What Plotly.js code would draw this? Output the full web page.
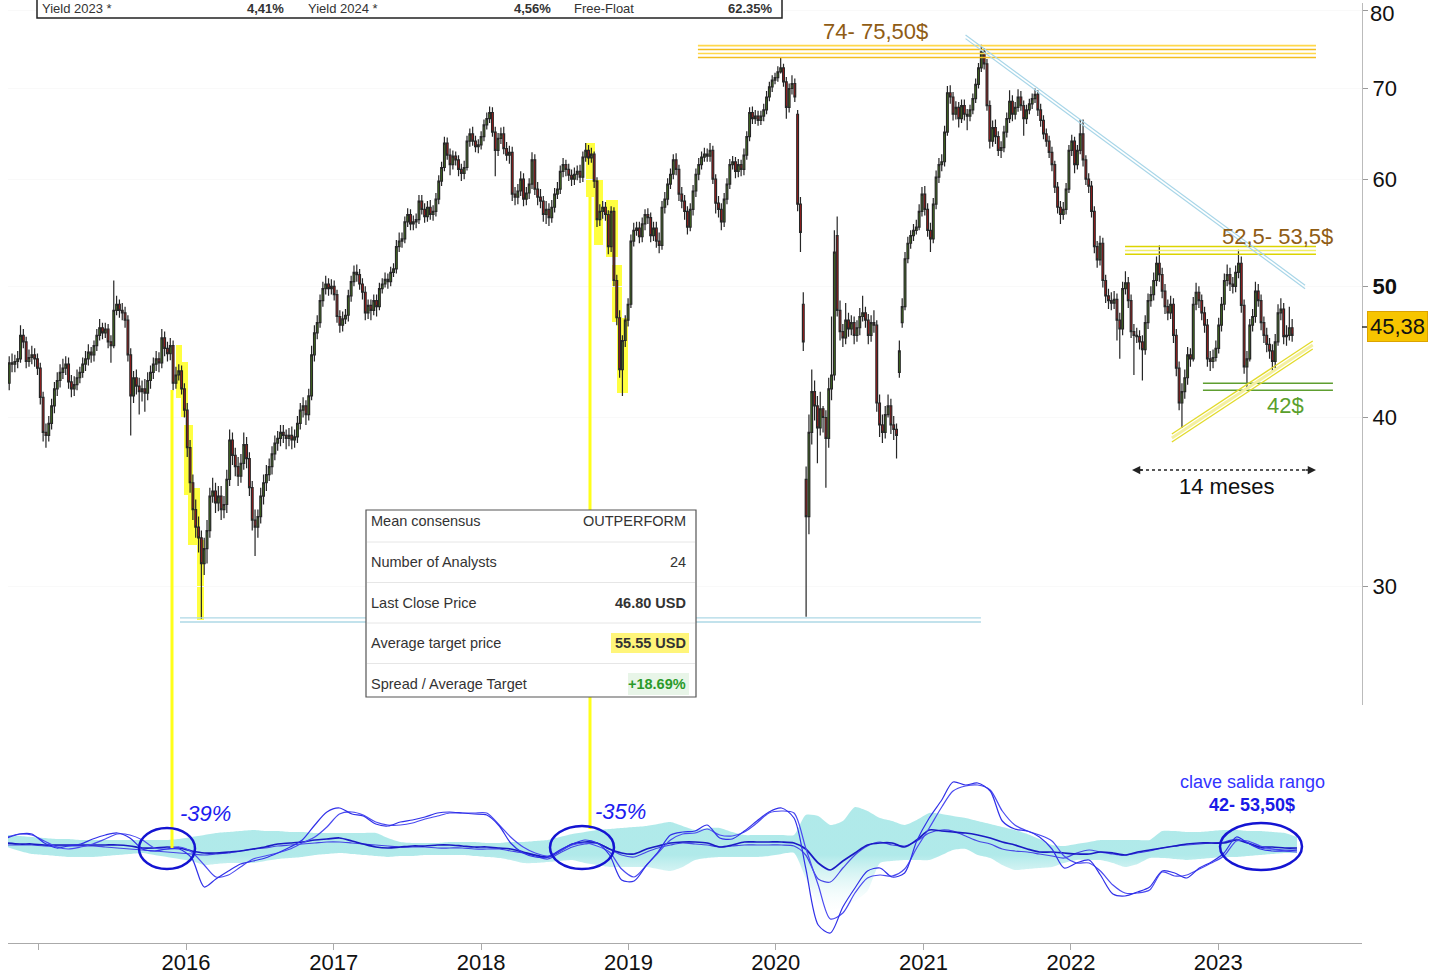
<!DOCTYPE html>
<html><head><meta charset="utf-8">
<script src="https://cdn.plot.ly/plotly-3.0.1.min.js"></script>
<style>html,body{margin:0;padding:0;background:#fff}#chart{width:1430px;height:974px}</style>
</head><body><div id="chart"></div>
<script>
// ---------- weekly candles (first week starting 2014-10-20) ----------
const weekStart = '2014-10-20';
const open = [
42.4,43.9,43.8,44.0,44.2,46.0,45.5,44.0,44.3,44.5,
44.2,43.5,41.4,39.0,38.8,39.6,40.8,42.0,42.6,43.2,
43.5,43.8,42.5,42.0,42.3,42.8,43.2,43.8,44.2,44.7,
44.5,45.2,46.0,46.6,46.2,46.5,45.5,45.2,48.0,48.5,
48.0,47.8,47.2,44.5,41.5,42.8,42.2,41.8,42.0,41.7,
42.6,43.2,43.8,44.2,43.9,45.8,45.0,44.6,45.2,42.4,
43.0,43.3,42.0,40.5,38.0,35.8,34.2,33.2,32.6,31.2,
32.0,33.0,35.0,35.3,34.6,35.0,34.2,34.5,36.0,38.5,
37.5,36.8,36.2,37.0,38.2,37.3,35.5,33.6,33.2,33.8,
35.0,35.8,36.3,36.8,37.6,38.3,38.6,39.0,38.8,38.6,
38.8,38.5,38.7,39.6,40.5,40.8,40.2,41.5,44.5,46.2,
47.0,48.8,49.8,50.2,49.8,50.0,49.3,47.5,46.8,47.3,
47.6,49.2,50.4,51.2,51.0,50.2,49.5,47.8,48.4,48.0,
48.8,48.3,49.8,50.2,50.6,50.4,51.2,51.5,53.5,54.0,
54.2,55.8,56.5,55.6,55.8,56.0,57.8,57.0,56.3,57.2,
56.5,56.8,58.0,59.8,61.2,63.8,62.5,61.5,62.4,62.0,
61.0,60.6,61.2,64.0,64.8,64.0,63.4,63.6,64.5,65.8,
66.5,67.2,65.0,63.0,64.3,64.8,63.2,62.5,62.8,58.5,
58.2,58.8,60.0,58.0,58.6,59.5,62.0,59.0,58.2,57.8,
56.5,57.0,56.2,57.2,58.5,59.0,60.8,61.5,61.0,60.4,
60.0,60.5,60.8,60.2,62.3,63.0,62.2,62.6,59.8,56.0,
56.8,57.2,56.5,53.5,56.8,50.5,47.4,43.4,45.6,47.2,
48.5,54.0,55.0,55.2,54.4,55.6,56.5,56.2,54.5,55.2,
54.0,53.6,57.2,58.0,59.5,60.5,62.0,61.0,58.5,57.8,
56.8,55.3,57.0,58.8,60.5,61.5,62.3,62.6,62.4,63.0,
60.0,57.6,57.0,55.8,58.0,59.5,61.5,61.8,60.8,61.5,
61.0,62.5,64.5,67.2,66.5,66.8,66.3,66.8,67.5,69.0,
70.2,71.0,71.3,72.0,72.5,70.8,67.8,70.0,70.6,67.0,
57.5,48.5,36.0,33.8,39.0,41.8,40.8,39.3,40.6,40.0,
38.6,42.0,43.0,54.5,48.0,46.3,45.8,47.2,46.5,47.0,
46.0,46.6,47.5,47.8,47.2,46.0,47.0,46.8,41.0,39.5,
39.0,40.2,40.8,39.5,39.2,43.2,47.0,48.3,52.4,53.8,
54.5,55.0,55.3,56.8,58.5,57.0,55.0,54.2,57.5,60.2,
61.5,61.8,65.0,69.5,69.0,67.0,67.8,66.5,68.0,67.0,
66.8,67.5,68.8,70.5,72.5,74.5,73.0,68.0,64.0,65.5,
64.5,63.0,63.3,65.0,66.5,68.5,67.0,67.8,69.0,68.0,
66.5,67.5,68.2,68.8,69.3,67.5,66.3,64.8,64.0,62.8,
61.5,59.2,57.2,56.5,57.0,59.0,63.0,64.0,61.5,63.0,
64.8,62.0,60.0,59.3,56.8,53.5,52.3,53.8,50.5,49.2,
48.8,48.6,48.9,47.2,46.5,49.8,50.3,48.8,46.3,46.0,
45.9,45.5,44.9,47.0,48.8,49.3,50.5,52.0,51.0,49.6,
48.3,47.8,48.5,46.0,43.5,41.0,41.8,42.8,44.5,44.2,
48.5,49.5,48.8,47.8,46.8,44.2,44.0,44.3,45.0,46.8,
48.5,50.5,51.0,50.2,50.0,51.2,52.0,48.4,43.6,44.2,
46.8,47.5,49.6,48.8,47.0,46.0,45.3,44.8,44.0,45.5,
47.8,48.1,45.9,46.0,46.6];
const high = [
44.4,44.6,44.5,44.8,46.8,46.5,45.9,44.9,45.2,45.0,
44.6,43.9,41.8,39.6,40.1,41.3,42.5,43.2,43.8,44.2,
44.4,44.3,43.0,42.9,43.4,43.6,44.3,44.8,45.3,45.1,
45.6,46.5,47.3,47.0,47.0,46.9,46.0,50.5,49.2,48.9,
48.6,48.3,47.6,45.0,43.3,43.4,42.8,42.6,42.7,43.2,
43.7,44.3,44.8,44.7,46.5,46.3,45.5,45.8,45.6,43.6,
43.8,43.7,42.4,41.0,38.5,36.3,34.8,33.8,33.0,32.6,
33.6,35.5,36.1,35.8,35.6,35.6,35.0,36.6,39.2,39.0,
38.0,37.4,37.6,39.0,38.7,37.7,35.9,34.2,34.2,35.5,
36.3,36.9,37.3,38.1,38.8,39.1,39.5,39.5,39.2,39.3,
39.4,39.2,40.1,41.0,41.4,41.2,42.0,45.2,46.8,47.6,
49.3,50.4,50.9,50.7,50.6,50.5,49.7,48.0,47.9,48.1,
49.7,50.9,51.8,51.9,51.5,50.7,50.0,48.9,48.9,49.3,
49.3,50.3,50.7,51.2,51.1,51.7,52.0,54.1,54.8,54.8,
56.3,57.1,57.0,56.4,56.6,58.4,58.4,57.6,57.8,57.9,
57.4,58.6,60.4,61.8,64.5,64.4,63.2,63.0,62.9,62.5,
61.6,61.9,64.6,65.4,65.6,64.6,64.2,65.1,66.4,67.2,
67.9,67.8,65.6,64.9,65.5,65.6,63.9,63.5,63.4,59.2,
59.5,60.8,60.6,59.2,60.1,62.8,62.6,59.7,59.0,58.3,
57.8,57.6,57.9,59.1,59.7,61.4,62.2,62.0,61.6,61.0,
61.2,61.4,61.5,62.9,63.8,63.6,63.3,62.9,60.2,57.5,
57.8,57.7,56.9,57.3,57.2,51.0,48.0,46.0,47.6,49.0,
54.6,55.7,55.8,55.8,56.2,57.0,57.1,56.7,55.8,55.8,
54.8,57.8,58.7,60.1,61.1,62.6,62.7,61.5,59.2,58.4,
57.3,57.6,59.4,61.1,62.2,62.9,63.3,63.2,63.8,63.5,
60.5,58.3,57.6,58.6,60.1,62.1,62.4,62.3,62.1,62.0,
63.2,65.1,67.8,67.9,67.5,67.4,67.4,68.2,69.7,70.8,
71.6,71.9,72.7,73.8,73.0,71.4,70.6,71.6,71.2,67.5,
58.2,49.5,36.8,40.2,43.4,42.6,41.5,41.8,40.8,40.5,
42.8,47.5,55.0,56.3,48.8,46.9,48.6,47.8,47.6,47.5,
47.2,48.2,49.2,48.3,47.7,47.6,48.0,47.2,41.6,40.2,
40.8,41.6,41.3,40.1,39.6,45.6,49.0,53.0,54.4,55.0,
55.6,56.0,57.5,59.2,59.3,57.6,55.7,58.1,60.9,62.2,
62.6,65.7,70.3,70.4,69.6,68.5,68.4,68.7,68.7,67.6,
68.1,69.4,71.2,73.1,75.4,75.0,73.6,68.6,66.3,66.4,
65.1,64.0,65.7,67.2,69.8,69.2,68.4,69.9,69.7,68.6,
68.1,68.8,69.4,70.0,69.8,68.2,66.9,65.4,64.6,63.4,
61.9,59.7,57.8,57.7,59.6,63.6,64.7,64.5,63.6,66.4,
66.4,62.5,60.6,59.8,57.3,54.0,54.5,54.3,51.0,49.8,
49.5,49.6,49.4,47.8,50.4,51.3,50.8,49.3,46.9,46.6,
46.4,46.0,47.6,49.4,50.0,51.2,52.6,53.6,51.6,50.2,
48.9,49.2,49.0,46.5,44.0,42.4,43.4,45.1,45.0,49.1,
50.3,50.0,49.3,48.3,47.3,44.8,44.9,45.6,47.4,49.1,
51.1,51.9,51.6,50.8,51.8,53.2,52.6,48.9,44.8,47.3,
48.1,50.4,50.2,49.3,47.5,46.6,45.8,45.3,46.1,48.5,
49.0,48.6,46.8,48.3,47.3];
const low = [
41.9,43.2,43.2,43.5,43.9,45.0,43.5,43.6,43.8,43.6,
43.0,40.9,38.4,38.0,38.4,39.2,40.3,41.5,42.1,42.7,
43.0,42.0,41.4,41.5,41.9,42.4,42.8,43.3,43.7,43.9,
44.0,44.8,45.6,45.7,45.8,45.0,43.9,45.0,47.6,47.4,
47.2,46.6,44.0,38.8,41.0,41.6,40.2,41.1,40.4,41.2,
42.0,42.7,43.3,43.2,43.5,44.4,44.0,44.1,41.9,42.0,
42.6,41.6,40.0,37.4,35.2,33.6,32.6,31.8,28.4,30.6,
31.2,32.6,34.6,34.0,34.1,33.6,33.7,34.0,35.6,36.9,
36.2,35.6,35.8,36.6,36.7,35.0,33.0,31.6,32.6,33.4,
34.5,35.3,35.9,36.3,37.2,37.8,38.1,38.3,37.9,38.1,
37.9,38.0,38.3,39.2,40.0,39.5,39.8,41.2,44.0,45.7,
46.6,48.3,49.3,49.2,49.3,48.8,47.0,46.2,46.3,46.9,
47.1,48.7,50.0,50.4,49.7,48.9,47.2,47.3,47.2,47.6,
47.5,48.0,49.4,49.9,49.8,50.0,50.8,51.1,53.0,53.4,
53.8,55.3,55.0,55.0,55.2,55.6,56.5,55.7,55.8,56.0,
55.9,56.3,57.5,59.3,60.8,62.0,60.4,61.0,61.4,60.3,
59.8,60.0,60.9,63.4,63.5,62.8,62.7,63.1,64.0,65.3,
66.0,64.5,60.3,62.4,63.7,62.6,61.9,61.6,57.8,57.4,
57.5,58.3,57.3,57.4,58.0,59.0,58.4,57.4,57.1,55.8,
55.6,55.4,55.7,56.7,58.0,58.5,60.2,60.3,59.8,59.3,
59.4,59.9,59.6,59.7,61.8,61.5,61.7,59.1,55.3,55.4,
56.1,55.9,52.8,53.0,50.0,46.8,42.8,41.5,45.1,46.7,
48.2,53.5,54.5,53.8,53.9,55.0,55.6,53.9,54.0,53.4,
52.9,53.2,56.6,57.4,59.0,60.0,60.4,57.8,57.1,56.0,
54.6,54.9,56.4,58.2,59.9,61.0,61.8,61.8,61.8,59.5,
56.6,56.2,55.0,55.3,57.5,59.0,61.0,60.1,60.2,60.3,
60.4,62.0,64.0,65.9,65.9,65.7,65.8,66.2,67.0,68.5,
69.6,70.5,70.8,71.8,70.2,66.5,67.2,69.3,68.4,56.8,
53.0,44.8,28.5,32.8,38.2,39.8,37.0,38.8,39.0,35.5,
38.0,41.2,42.6,47.5,45.6,45.1,45.3,45.9,46.0,45.3,
45.5,46.0,47.1,46.6,45.3,45.5,46.2,40.4,38.7,38.3,
38.6,40.0,38.9,38.5,37.3,42.8,46.6,48.0,52.0,53.3,
54.0,54.6,55.0,56.3,56.4,54.4,53.0,53.8,57.0,59.6,
60.8,61.3,64.6,68.2,66.3,66.4,65.5,66.0,66.3,65.2,
66.2,67.0,68.3,70.0,72.0,72.3,67.4,63.2,63.4,63.7,
62.4,62.2,62.8,64.4,66.0,66.2,66.4,67.3,67.4,64.6,
65.9,67.0,67.6,68.3,66.8,65.6,64.2,63.4,62.2,60.8,
58.6,56.6,55.6,56.0,56.5,58.6,62.4,60.6,61.0,62.6,
61.3,59.4,58.6,56.2,52.9,51.6,51.8,49.9,48.6,48.1,
48.0,48.1,45.6,44.2,46.0,49.3,48.2,45.8,43.0,45.4,
44.9,42.6,44.5,46.5,48.3,48.8,50.0,50.4,49.0,47.7,
47.2,47.3,45.4,42.9,40.5,39.3,41.3,42.3,43.6,44.0,
48.0,48.2,47.2,46.2,43.6,43.3,43.5,44.0,44.6,46.3,
48.0,50.0,49.6,49.4,49.5,50.7,47.8,43.1,42.0,44.0,
46.3,47.0,48.3,46.4,45.4,44.7,44.2,43.2,43.5,45.2,
47.2,45.3,45.2,45.6,45.5];
const close = [
43.9,43.8,44.0,44.2,46.0,45.5,44.0,44.3,44.5,44.2,
43.5,41.4,39.0,38.8,39.6,40.8,42.0,42.6,43.2,43.5,
43.8,42.5,42.0,42.3,42.8,43.2,43.8,44.2,44.7,44.5,
45.2,46.0,46.6,46.2,46.5,45.5,45.2,48.0,48.5,48.0,
47.8,47.2,44.5,41.5,42.8,42.2,41.8,42.0,41.7,42.6,
43.2,43.8,44.2,43.9,45.8,45.0,44.6,45.2,42.4,43.0,
43.3,42.0,40.5,38.0,35.8,34.2,33.2,32.6,31.2,32.0,
33.0,35.0,35.3,34.6,35.0,34.2,34.5,36.0,38.5,37.5,
36.8,36.2,37.0,38.2,37.3,35.5,33.6,33.2,33.8,35.0,
35.8,36.3,36.8,37.6,38.3,38.6,39.0,38.8,38.6,38.8,
38.5,38.7,39.6,40.5,40.8,40.2,41.5,44.5,46.2,47.0,
48.8,49.8,50.2,49.8,50.0,49.3,47.5,46.8,47.3,47.6,
49.2,50.4,51.2,51.0,50.2,49.5,47.8,48.4,48.0,48.8,
48.3,49.8,50.2,50.6,50.4,51.2,51.5,53.5,54.0,54.2,
55.8,56.5,55.6,55.8,56.0,57.8,57.0,56.3,57.2,56.5,
56.8,58.0,59.8,61.2,63.8,62.5,61.5,62.4,62.0,61.0,
60.6,61.2,64.0,64.8,64.0,63.4,63.6,64.5,65.8,66.5,
67.2,65.0,63.0,64.3,64.8,63.2,62.5,62.8,58.5,58.2,
58.8,60.0,58.0,58.6,59.5,62.0,59.0,58.2,57.8,56.5,
57.0,56.2,57.2,58.5,59.0,60.8,61.5,61.0,60.4,60.0,
60.5,60.8,60.2,62.3,63.0,62.2,62.6,59.8,56.0,56.8,
57.2,56.5,53.5,56.8,50.5,47.4,43.4,45.6,47.2,48.5,
54.0,55.0,55.2,54.4,55.6,56.5,56.2,54.5,55.2,54.0,
53.6,57.2,58.0,59.5,60.5,62.0,61.0,58.5,57.8,56.8,
55.3,57.0,58.8,60.5,61.5,62.3,62.6,62.4,63.0,60.0,
57.6,57.0,55.8,58.0,59.5,61.5,61.8,60.8,61.5,61.0,
62.5,64.5,67.2,66.5,66.8,66.3,66.8,67.5,69.0,70.2,
71.0,71.3,72.0,72.5,70.8,67.8,70.0,70.6,69.0,57.5,
54.8,45.5,33.8,39.0,41.8,40.8,39.3,40.6,40.0,38.6,
42.0,43.0,53.0,48.0,46.3,45.8,47.2,46.5,47.0,46.0,
46.6,47.5,47.8,47.2,46.0,47.0,46.8,41.0,39.5,39.0,
40.2,40.8,39.5,39.2,38.8,44.8,48.3,52.4,53.8,54.5,
55.0,55.3,56.8,58.5,57.0,55.0,54.2,57.5,60.2,61.5,
61.8,65.0,69.5,69.0,67.0,67.8,66.5,68.0,67.0,66.8,
67.5,68.8,70.5,72.5,74.5,73.0,68.0,64.0,65.5,64.5,
63.0,63.3,65.0,66.5,68.5,67.0,67.8,69.0,68.0,66.5,
67.5,68.2,68.8,69.3,67.5,66.3,64.8,64.0,62.8,61.5,
59.2,57.2,56.5,57.0,59.0,63.0,64.0,61.5,63.0,64.8,
62.0,60.0,59.3,56.8,53.5,52.3,53.8,50.5,49.2,48.8,
48.6,48.9,47.2,46.5,49.8,50.3,48.8,46.3,46.0,45.9,
45.5,44.9,47.0,48.8,49.3,50.5,52.0,51.0,49.6,48.3,
47.8,48.5,46.0,43.5,41.0,41.8,42.8,44.5,44.2,48.5,
49.5,48.8,47.8,46.8,44.2,44.0,44.3,45.0,46.8,48.5,
50.5,51.0,50.2,50.0,51.2,52.0,48.4,43.6,44.2,46.8,
47.5,49.6,48.8,47.0,46.0,45.3,44.8,44.0,45.5,47.8,
48.1,45.9,46.0,46.6,46.0];

// ---------- oscillator pane (monthly samples from 2014-10-15) ----------
const oscStart = '2014-10-15';
const fastA = [5,9,9,0,-5,-3,-1,4,8,10, 5,-6,-8,-6,-6,-15,-44,-36,-28,-21, -18,-15,-10,-4,3,18,31,35,29,27,
 19,17,21,23,26,30,31,30,29,28, 17,0,-10,-14,-14,-7,-1,3,0,-12, -37,-38,-22,-9,8,11,12,18,5,4,
 12,22,31,35,25,-25,-82,-90,-64,-45, -28,-25,-34,-30,2,25,43,61,58,60, 52,22,14,12,6,-6,-25,-20,-17,-32,
 -51,-53,-49,-44,-28,-30,-35,-25,-19,-10, 6,0,-6,-8,-8,-7];
const fastB = [6,9,8,2,-4,-6,-4,-1,4,9, 8,3,-5,-6,-4,-9,-22,-34,-32,-24, -16,-13,-10,-6,0,6,16,29,31,28,
 21,18,18,20,24,27,30,30,30,30, 18,6,-4,-10,-13,-8,-2,0,-3,-9, -26,-34,-22,-10,3,9,10,14,8,7,
 11,20,30,32,30,-5,-42,-76,-70,-50, -35,-32,-33,-26,-5,15,36,52,57,58, 53,32,18,12,8,2,-13,-20,-20,-28,
 -42,-50,-50,-47,-29,-33,-32,-26,-20,-13, 2,2,-3,-6,-8,-9];
const slowC = [0,-1,-1,-2,-2,-2,-2,-2,-2,-2, -3,-5,-5,-4,-5,-8,-10,-10,-9,-8, -6,-4,-1,0,1,3,4,5,2,-1,
 -4,-5,-4,-3,-3,-2,-2,-3,-4,-4, -5,-6,-9,-12,-14,-8,-1,1,0,-6, -10,-11,-6,-3,0,1,1,0,-4,-2,
 1,1,1,1,0,-6,-20,-27,-18,-10, -2,0,0,-4,3,13,12,11,10,8, 5,1,-2,-6,-9,-9,-10,-11,-11,-9,
 -10,-12,-9,-7,-5,-3,-1,0,0,0, 3,0,-4,-4,-5,-5];
const slowD = [-2,-2,-2,-3,-3,-3,-3,-3,-4,-5, -6,-7,-8,-9,-10,-11,-12,-11,-10,-8, -6,-5,-3,-2,-1,0,1,1,0,-1,
 -2,-3,-4,-4,-4,-5,-5,-5,-6,-6, -6,-8,-10,-13,-16,-10,-4,-1,0,-6, -12,-14,-9,-5,-2,0,-1,-2,-4,-3,
 -2,-2,-2,-2,-3,-12,-36,-39,-25,-12, -3,1,-2,-3,2,10,13,12,7,2, -1,-6,-8,-9,-11,-13,-15,-10,-7,-9,
 -11,-12,-10,-8,-5,-3,-2,-1,0,1, 4,0,-5,-6,-7,-7];
const bandUp = [8,7,6,5,4,4,3,3,3,3, 3,3,3,3,4,6,8,10,11,12, 13,12,12,11,11,10,10,10,10,10,
 10,5,1,0,0,0,1,1,1,0, 0,1,1,2,3,6,9,11,13,14, 15,16,17,19,21,17,13,15,15,11,
 8,8,8,8,8,28,27,18,22,36, 32,25,22,18,23,30,29,27,25,22, 19,16,13,9,4,-2,-3,-1,1,3,
 3,3,3,3,12,12,11,11,12,13, 13,12,12,11,10,6];
const bandLo = [-4,-8,-11,-12,-13,-14,-14,-14,-13,-12, -11,-10,-12,-14,-16,-18,-22,-21,-20,-20, -20,-18,-16,-15,-14,-12,-11,-10,-11,-12,
 -13,-14,-13,-13,-12,-12,-12,-12,-13,-14, -15,-17,-20,-20,-19,-18,-17,-20,-22,-24, -24,-24,-24,-26,-28,-24,-17,-15,-14,-14,
 -14,-14,-13,-11,-10,-35,-60,-67,-64,-58, -48,-20,-18,-17,-17,-17,-12,-7,-6,-12, -15,-22,-27,-26,-25,-24,-20,-17,-17,-17,
 -20,-24,-21,-15,-15,-16,-17,-16,-15,-14, -14,-13,-12,-11,-10,-10];

// ---------- axes / levels ----------
const yearTicks = ['2015-01-01','2016-01-01','2017-01-01','2018-01-01','2019-01-01','2020-01-01','2021-01-01','2022-01-01','2023-01-01'];
const yearLabels = ['','2016','2017','2018','2019','2020','2021','2022','2023'];
const priceTicks = [30,40,50,60,70,80];
const priceTickText = ['30','40','<b>50</b>','60','70',''];   // "80" is written as a label below, kept inside the page
const topLevels = [73.8,74.3,74.8,75.3];      const topSpan = ['2019-06-22','2023-08-31'];
const midLevels = [52.8,53.15,53.5];          const midSpan = ['2022-05-15','2023-08-31'];
const lowLevels = [42.4,41.9];                const lowSpan = ['2022-11-24','2023-10-12'];
const floorLevels = [28.45,28.25];            const floorSpan = ['2015-12-17','2021-05-23'];
const downTrendDates = ['2021-04-15','2023-08-04'];
const downTrendA = [76.67,50.1];
const downTrendB = [76.2,49.8];
const upTrendDates = ['2022-09-08','2023-08-23'];
const upTrendA = [38.9,45.56];
const upTrendM = [38.63,45.25];
const upTrendB = [38.37,44.94];

// ---------- helpers ----------
function addDays(s,d){const t=new Date(s+'T00:00:00Z');t.setUTCDate(t.getUTCDate()+d);return t.toISOString().slice(0,10);}
function addMonths(s,m){const t=new Date(s+'T00:00:00Z');t.setUTCMonth(t.getUTCMonth()+m);return t.toISOString().slice(0,10);}
const weeks = close.map((_,i)=>addDays(weekStart,7*i));
const months = fastA.map((_,i)=>addMonths(oscStart,i));

const M = {l:8,r:68,t:3,b:31};
const PW = 1430-M.l-M.r, PH = 974-M.t-M.b;
const X = px => (px-M.l)/PW;
const Y = py => 1-(py-M.t)/PH;

const traces = [];
function hline(span, v, color, width){
  traces.push({type:'scatter',mode:'lines',x:span,y:[v,v],xaxis:'x',yaxis:'y',line:{color:color,width:width},hoverinfo:'skip'});
}
topLevels.forEach((v,i)=>hline(topSpan,v,i%2?'#ffd84a':'#f2bd1d',1.6));
midLevels.forEach((v,i)=>hline(midSpan,v,i===1?'#f2ee6a':'#dcd400',1.5));
lowLevels.forEach(v=>hline(lowSpan,v,'#5e9e30',1.5));
floorLevels.forEach(v=>hline(floorSpan,v,'#aed8e6',1.3));
[[downTrendA,'#a9d6e8'],[downTrendB,'#a9d6e8']].forEach(([ys,c])=>traces.push({type:'scatter',mode:'lines',x:downTrendDates,y:ys,xaxis:'x',yaxis:'y',line:{color:c,width:1.2},hoverinfo:'skip'}));
[[upTrendA,'#e2da2a',1.3],[upTrendM,'#f4f0a0',3],[upTrendB,'#e2da2a',1.3]].forEach(([ys,c,w])=>traces.push({type:'scatter',mode:'lines',x:upTrendDates,y:ys,xaxis:'x',yaxis:'y',line:{color:c,width:w},hoverinfo:'skip'}));

traces.push({type:'candlestick',x:weeks,open:open,high:high,low:low,close:close,xaxis:'x',yaxis:'y',
  increasing:{line:{color:'#262626',width:1.2},fillcolor:'#4d8a1c'},
  decreasing:{line:{color:'#262626',width:1.2},fillcolor:'#d81616'},
  whiskerwidth:0,hoverinfo:'skip'});

// oscillator
traces.push({type:'scatter',mode:'lines',x:months,y:bandLo,xaxis:'x',yaxis:'y2',line:{width:0,shape:'spline',smoothing:0.6},hoverinfo:'skip'});
traces.push({type:'scatter',mode:'lines',x:months,y:bandUp,xaxis:'x',yaxis:'y2',line:{width:0,shape:'spline',smoothing:0.6},
  fill:'tonexty',fillcolor:'rgba(80,208,208,0.45)',
  fillgradient:{type:'vertical',start:-75,stop:-12,colorscale:[[0,'rgba(255,255,255,0)'],[1,'rgba(80,208,208,0.45)']]},
  hoverinfo:'skip'});
traces.push({type:'scatter',mode:'lines',x:months,y:slowD,xaxis:'x',yaxis:'y2',line:{color:'#4646e6',width:1.2,shape:'spline',smoothing:0.8},hoverinfo:'skip'});
traces.push({type:'scatter',mode:'lines',x:months,y:slowC,xaxis:'x',yaxis:'y2',line:{color:'#1a1ac4',width:1.7,shape:'spline',smoothing:0.8},hoverinfo:'skip'});
traces.push({type:'scatter',mode:'lines',x:months,y:fastB,xaxis:'x',yaxis:'y2',line:{color:'#4a4af0',width:1.2,shape:'spline',smoothing:0.8},hoverinfo:'skip'});
traces.push({type:'scatter',mode:'lines',x:months,y:fastA,xaxis:'x',yaxis:'y2',line:{color:'#3030e8',width:1.2,shape:'spline',smoothing:0.8},hoverinfo:'skip'});

// ---------- shapes ----------
const shapes = [];
function rect(x0,y0,x1,y1,fill,line,layer){shapes.push({type:'rect',xref:'paper',yref:'paper',x0:X(x0),x1:X(x1),y0:Y(y1),y1:Y(y0),fillcolor:fill,line:line||{width:0},layer:layer||'above'});}
function seg(x0,y0,x1,y1,color,width,dash,layer){shapes.push({type:'line',xref:'paper',yref:'paper',x0:X(x0),x1:X(x1),y0:Y(y0),y1:Y(y1),line:{color:color,width:width,dash:dash||'solid'},layer:layer||'above'});}
const hl = '#ffff40';
[[176,345,182,398],[181,362,188,418],[184,425,193,495],[188,488,200,545],[197,540,204,620],
 [586,143,595,197],[594,180,603,245],[606,200,618,257],[612,265,622,322],[617,318,628,393]]
 .forEach(r=>rect(r[0],r[1],r[2],r[3],hl,null,'below'));
seg(172,390,172,848,'#ffff1a',3);
seg(590,197,590,829,'#ffff1a',3);
// ellipses
[[139,828,195,869],[550,826,614,869],[1220,823,1302,870]].forEach(e=>shapes.push({type:'circle',xref:'paper',yref:'paper',x0:X(e[0]),x1:X(e[2]),y0:Y(e[3]),y1:Y(e[1]),line:{color:'#1414d2',width:2.5}}));
// top table
rect(37,-20,782,18,'#ffffff',{color:'#222',width:1.5});
// consensus box
rect(366,510,696,697,'#ffffff',{color:'#555',width:1.2});
[542,582.5,623,663.5].forEach(y=>seg(367,y,695,y,'#e6e6e6',1));
rect(611,633,689,653,'#fff57a');
rect(628,673,689,695,'#e8f5e8');
// 14 meses dotted
seg(1140,470,1308,470,'#222',1.5,'dot');
// tick mark for last price
seg(1362,327,1367,327,'#000',1.2);

// ---------- annotations ----------
const ann = [];
function txt(px,py,text,o){o=o||{};ann.push({xref:'paper',yref:'paper',x:X(px),y:Y(py),text:text,showarrow:false,
  xanchor:o.xa||'center',yanchor:'middle',font:{size:o.size||22,color:o.color||'#111',family:o.family||'Liberation Sans, Arial, sans-serif'},
  bgcolor:o.bg,bordercolor:o.bc,borderwidth:o.bw||0,borderpad:o.pad||0});}
txt(1370,14,'80',{xa:'left',color:'#111'});
txt(875,32,'74- 75,50$',{color:'#8f5c14'});
txt(1277,237,'52,5- 53,5$',{color:'#8f5c14'});
txt(1285,405,'42$',{color:'#5aa02c'});
txt(1226,487,'14 meses',{color:'#111'});
txt(205,813,'<i>-39%</i>',{color:'#1c1cf0'});
txt(620,811,'<i>-35%</i>',{color:'#1c1cf0'});
txt(1252,782,'clave salida rango',{size:18,color:'#3333ff'});
txt(1252,805,'<b>42- 53,50$</b>',{size:18,color:'#1a1ae6'});
txt(1397,327,'45,38',{bg:'#f7c500',bc:'#dca300',bw:1,pad:2,color:'#111'});
// arrowheads
ann.push({xref:'paper',yref:'paper',x:X(1132),y:Y(470),ax:12,ay:0,text:'',showarrow:true,arrowhead:2,arrowsize:1.1,arrowwidth:1.5,arrowcolor:'#222'});
ann.push({xref:'paper',yref:'paper',x:X(1316),y:Y(470),ax:-12,ay:0,text:'',showarrow:true,arrowhead:2,arrowsize:1.1,arrowwidth:1.5,arrowcolor:'#222'});
// top table texts
const tt = {size:13,color:'#333'};
txt(42,9,'Yield 2023 *',Object.assign({xa:'left'},tt));
txt(284,9,'<b>4,41%</b>',Object.assign({xa:'right'},tt));
txt(308,9,'Yield 2024 *',Object.assign({xa:'left'},tt));
txt(551,9,'<b>4,56%</b>',Object.assign({xa:'right'},tt));
txt(574,9,'Free-Float',Object.assign({xa:'left'},tt));
txt(773,9,'<b>62.35%</b>',Object.assign({xa:'right'},tt));
// consensus texts
const cs = {size:14.5,color:'#333'};
const rowsL = ['Mean consensus','Number of Analysts','Last Close Price','Average target price','Spread / Average Target'];
const rowsR = ['OUTPERFORM','24','<b>46.80 USD</b>','<b>55.55 USD</b>','<b>+18.69%</b>'];
const rowsY = [521,562,603,643,684];
rowsL.forEach((t,i)=>txt(371,rowsY[i],t,Object.assign({xa:'left'},cs)));
rowsR.forEach((t,i)=>txt(686,rowsY[i],t,Object.assign({xa:'right'},cs,i===4?{color:'#2a9a2a'}:{})));

// price pane spans pixels 3..705, oscillator 760..943
const layout = {
  width:1430,height:974,margin:{l:M.l,r:M.r,t:M.t,b:M.b,pad:0},
  paper_bgcolor:'#ffffff',plot_bgcolor:'#ffffff',showlegend:false,hovermode:false,boxgap:0.12,
  font:{family:'Liberation Sans, Arial, sans-serif',color:'#111'},
  xaxis:{type:'date',range:['2014-10-17','2023-12-23'],anchor:'y2',domain:[0,1],rangeslider:{visible:false},
    showgrid:false,zeroline:false,showline:true,linecolor:'#aaaaaa',linewidth:1,ticks:'outside',ticklen:6,tickcolor:'#aaaaaa',
    tickmode:'array',tickvals:yearTicks,ticktext:yearLabels,tickfont:{size:22,color:'#111'},ticklabelstandoff:-6},
  yaxis:{type:'log',domain:[1-702/PH,1],range:[Math.log10(24.53),Math.log10(80.96)],side:'right',anchor:'x',
    showline:true,linecolor:'#bbbbbb',ticks:'outside',ticklen:5,tickcolor:'#999',tickmode:'array',tickvals:priceTicks,ticktext:priceTickText,
    tickfont:{size:22,color:'#111'},showgrid:true,gridcolor:'#f9f9f9',zeroline:false,ticklabeloverflow:'allow'},
  yaxis2:{domain:[0,183/PH],range:[-100,83],anchor:'x',showticklabels:false,showgrid:false,zeroline:false,showline:false,ticks:''},
  shapes:shapes,annotations:ann
};
Plotly.newPlot('chart',traces,layout,{displayModeBar:false,staticPlot:true});
</script>
</body></html>
